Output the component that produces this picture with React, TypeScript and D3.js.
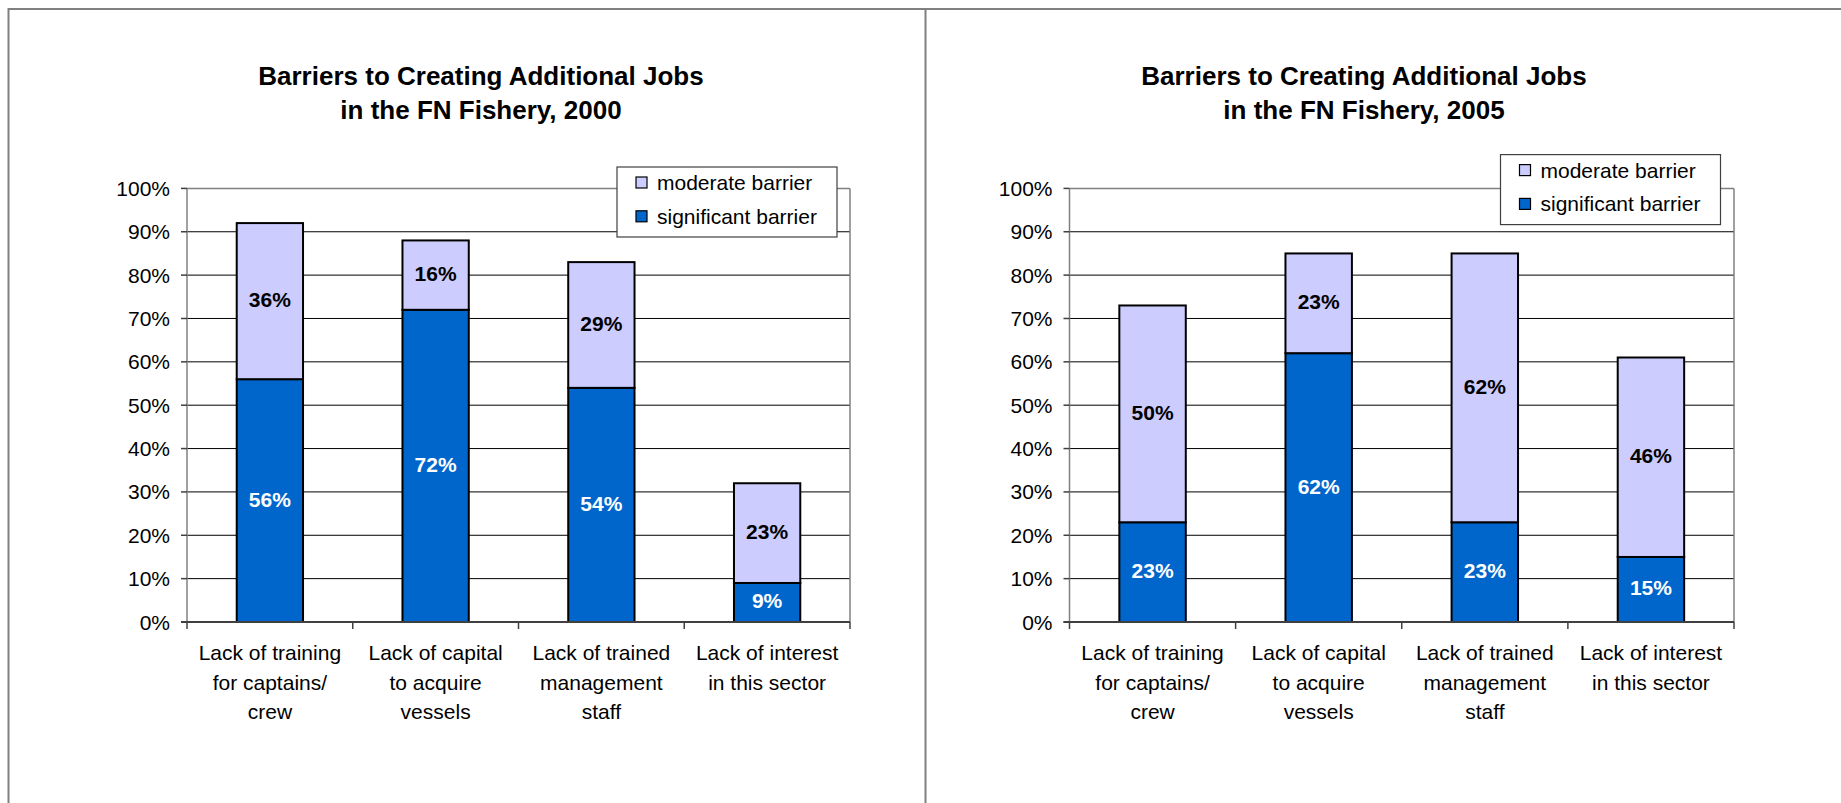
import React from "react";
import * as d3 from "d3";

// Categories shared by both panels (one string per label line)
const categories: string[][] = [
  ["Lack of training", "for captains/", "crew"],
  ["Lack of capital", "to acquire", "vessels"],
  ["Lack of trained", "management", "staff"],
  ["Lack of interest", "in this sector"],
];

const seriesNames = ["moderate barrier", "significant barrier"];

// 2000 survey
const significant2000 = [56, 72, 54, 9];
const moderate2000 = [36, 16, 29, 23];

// 2005 survey
const significant2005 = [23, 62, 23, 15];
const moderate2005 = [50, 23, 62, 46];

const yTicks = [0, 10, 20, 30, 40, 50, 60, 70, 80, 90, 100];

const COLOR_SIG = "#0066CC";
const COLOR_MOD = "#CCCCFF";
const FONT = "'Liberation Sans', Arial, Helvetica, sans-serif";

type PanelProps = {
  year: string;
  significant: number[];
  moderate: number[];
  plotLeft: number;
  plotRight: number;
  titleX: number;
  legendX: number;
  legendY: number;
};

function Panel({ year, significant, moderate, plotLeft, plotRight, titleX, legendX, legendY }: PanelProps) {
  const plotTop = 188.4;
  const plotBottom = 622;

  const x = d3
    .scaleBand<number>()
    .domain(d3.range(categories.length))
    .range([plotLeft, plotRight])
    .paddingInner(0)
    .paddingOuter(0);
  const y = d3.scaleLinear().domain([0, 100]).range([plotBottom, plotTop]);

  const band = x.bandwidth();
  const barW = band * 0.4;

  const stack = d3
    .stack<number>()
    .keys(["sig", "mod"])
    .value((i, key) => (key === "sig" ? significant[i] : moderate[i]));
  const layers = stack(d3.range(categories.length));

  const boundaries = d3.range(categories.length + 1).map((i) => plotLeft + i * band);

  return (
    <g>
      {/* Title */}
      <text x={titleX} y={85} textAnchor="middle" fontFamily={FONT} fontSize={26} fontWeight="bold" fill="#000">
        Barriers to Creating Additional Jobs
      </text>
      <text x={titleX} y={119} textAnchor="middle" fontFamily={FONT} fontSize={26} fontWeight="bold" fill="#000">
        {`in the FN Fishery, ${year}`}
      </text>

      {/* Gridlines */}
      {yTicks
        .filter((t) => t > 0 && t < 100)
        .map((t) => (
          <line key={t} x1={plotLeft} x2={plotRight} y1={y(t)} y2={y(t)} stroke="#000" strokeWidth={1} />
        ))}

      {/* Plot border (top and right) */}
      <line x1={plotLeft} x2={plotRight} y1={y(100)} y2={y(100)} stroke="#808080" strokeWidth={1.5} />
      <line x1={plotRight} x2={plotRight} y1={y(100)} y2={plotBottom} stroke="#808080" strokeWidth={1.5} />

      {/* Bars */}
      {layers.map((layer) =>
        layer.map((d, i) => {
          const bx = (x(i) as number) + (band - barW) / 2;
          const isSig = layer.key === "sig";
          return (
            <rect
              key={`${layer.key}-${i}`}
              x={bx}
              y={y(d[1])}
              width={barW}
              height={y(d[0]) - y(d[1])}
              fill={isSig ? COLOR_SIG : COLOR_MOD}
              stroke="#000"
              strokeWidth={2}
            />
          );
        })
      )}

      {/* Value labels */}
      {layers.map((layer) =>
        layer.map((d, i) => {
          const isSig = layer.key === "sig";
          const v = d[1] - d[0];
          const cx = (x(i) as number) + band / 2;
          const cy = y((d[0] + d[1]) / 2);
          return (
            <text
              key={`lab-${layer.key}-${i}`}
              x={cx}
              y={cy + 6}
              textAnchor="middle"
              fontFamily={FONT}
              fontSize={21}
              fontWeight="bold"
              fill={isSig ? "#fff" : "#000"}
            >
              {`${v}%`}
            </text>
          );
        })
      )}

      {/* Y axis */}
      <line x1={plotLeft} x2={plotLeft} y1={y(100)} y2={plotBottom} stroke="#808080" strokeWidth={1.5} />
      {yTicks.map((t) => (
        <g key={`yt-${t}`}>
          <line x1={plotLeft - 6} x2={plotLeft} y1={y(t)} y2={y(t)} stroke="#404040" strokeWidth={1.5} />
          <text
            x={plotLeft - 17}
            y={y(t) + 7.5}
            textAnchor="end"
            fontFamily={FONT}
            fontSize={21}
            fill="#000"
          >
            {`${t}%`}
          </text>
        </g>
      ))}

      {/* X axis */}
      <line x1={plotLeft - 6} x2={plotRight} y1={plotBottom} y2={plotBottom} stroke="#404040" strokeWidth={2} />
      {boundaries.map((bx, i) => (
        <line key={`xt-${i}`} x1={bx} x2={bx} y1={plotBottom} y2={plotBottom + 7} stroke="#404040" strokeWidth={1.5} />
      ))}
      {categories.map((lines, i) => (
        <text
          key={`cat-${i}`}
          textAnchor="middle"
          fontFamily={FONT}
          fontSize={21}
          fill="#000"
        >
          {lines.map((ln, j) => (
            <tspan key={j} x={(x(i) as number) + band / 2} y={660 + j * 29.5}>
              {ln}
            </tspan>
          ))}
        </text>
      ))}

      {/* Legend */}
      <rect x={legendX} y={legendY} width={220} height={70} fill="#fff" stroke="#404040" strokeWidth={1.2} />
      {seriesNames.map((name, k) => {
        const cy = legendY + 15.5 + k * 33.8;
        return (
          <g key={name}>
            <rect
              x={legendX + 19}
              y={cy - 5.5}
              width={11}
              height={11}
              fill={k === 0 ? COLOR_MOD : COLOR_SIG}
              stroke="#000"
              strokeWidth={1.2}
            />
            <text x={legendX + 40} y={cy + 7.5} fontFamily={FONT} fontSize={21} fill="#000">
              {name}
            </text>
          </g>
        );
      })}
    </g>
  );
}

export default function App() {
  return (
    <svg
      width={1841}
      height={803}
      style={{ position: "absolute", left: 0, top: 0, background: "#fff" }}
    >
      <rect x={0} y={0} width={1841} height={803} fill="#fff" />
      {/* Page frame */}
      <line x1={8.5} x2={1841} y1={9} y2={9} stroke="#808080" strokeWidth={2} />
      <line x1={8.5} x2={8.5} y1={8} y2={803} stroke="#808080" strokeWidth={2} />
      <line x1={925.5} x2={925.5} y1={8} y2={803} stroke="#808080" strokeWidth={2} />

      <Panel
        year="2000"
        significant={significant2000}
        moderate={moderate2000}
        plotLeft={187}
        plotRight={850}
        titleX={481}
        legendX={617}
        legendY={167}
      />
      <Panel
        year="2005"
        significant={significant2005}
        moderate={moderate2005}
        plotLeft={1069.5}
        plotRight={1734}
        titleX={1364}
        legendX={1500.5}
        legendY={154.6}
      />
    </svg>
  );
}
